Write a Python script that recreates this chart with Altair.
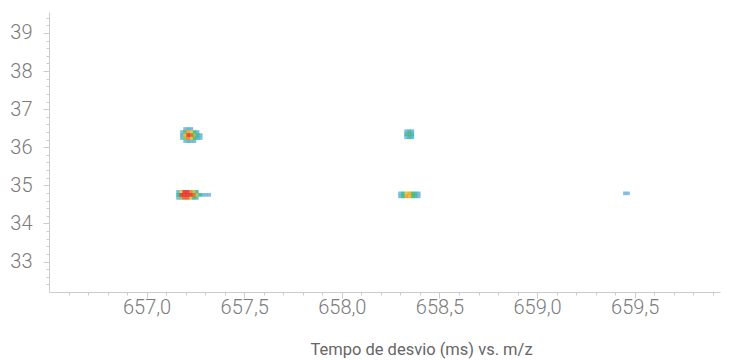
import altair as alt
import pandas as pd

# Ion-mobility map: drift time (ms) vs m/z, intensity per cell (0 = empty)
mz_step = 0.016
dt_step = 0.08

# Each peak: starting m/z column, drift-time rows, intensity grid (rows top->bottom)
peak_657_dt36_mz0 = 657.181
peak_657_dt36_rows = [36.48, 36.40, 36.32, 36.24, 36.16]
peak_657_dt36_grid = [
    [0.00, 0.12, 0.20, 0.15, 0.00, 0.00, 0.00],
    [0.12, 0.45, 0.75, 0.60, 0.35, 0.15, 0.00],
    [0.20, 0.70, 1.00, 0.85, 0.50, 0.35, 0.15],
    [0.15, 0.50, 0.80, 0.65, 0.40, 0.25, 0.12],
    [0.00, 0.12, 0.20, 0.15, 0.12, 0.00, 0.00],
]

peak_657_dt34_mz0 = 657.161
peak_657_dt34_rows = [34.83, 34.75, 34.67]
peak_657_dt34_grid = [
    [0.15, 0.60, 0.90, 0.95, 0.80, 0.55, 0.30, 0.00, 0.00, 0.00, 0.00],
    [0.35, 0.90, 1.00, 1.00, 1.00, 0.85, 0.55, 0.35, 0.15, 0.12, 0.10],
    [0.12, 0.50, 0.85, 0.85, 0.65, 0.40, 0.20, 0.00, 0.00, 0.00, 0.00],
]

peak_658_dt36_mz0 = 658.329
peak_658_dt36_rows = [36.42, 36.34, 36.26]
peak_658_dt36_grid = [
    [0.12, 0.30, 0.15],
    [0.30, 0.42, 0.30],
    [0.12, 0.30, 0.20],
]

peak_658_dt34_mz0 = 658.298
peak_658_dt34_rows = [34.79, 34.71]
peak_658_dt34_grid = [
    [0.12, 0.35, 0.60, 0.70, 0.45, 0.30, 0.12],
    [0.15, 0.40, 0.75, 0.65, 0.45, 0.30, 0.12],
]

peak_659_dt34_mz0 = 659.450
peak_659_dt34_rows = [34.79]
peak_659_dt34_grid = [
    [0.12, 0.10],
]

peaks = [
    (peak_657_dt36_mz0, peak_657_dt36_rows, peak_657_dt36_grid),
    (peak_657_dt34_mz0, peak_657_dt34_rows, peak_657_dt34_grid),
    (peak_658_dt36_mz0, peak_658_dt36_rows, peak_658_dt36_grid),
    (peak_658_dt34_mz0, peak_658_dt34_rows, peak_658_dt34_grid),
    (peak_659_dt34_mz0, peak_659_dt34_rows, peak_659_dt34_grid),
]

records = []
for mz0, rows, grid in peaks:
    for dt, line in zip(rows, grid):
        for i, v in enumerate(line):
            if v > 0:
                records.append({"mz": mz0 + i * mz_step, "drift": dt, "intensity": v})
df = pd.DataFrame(records).sort_values("intensity")

# Axis tick positions (major + minor)
x_ticks = [656.6, 656.7, 656.8, 656.9, 657.0, 657.1, 657.2, 657.3, 657.4, 657.5,
           657.6, 657.7, 657.8, 657.9, 658.0, 658.1, 658.2, 658.3, 658.4, 658.5,
           658.6, 658.7, 658.8, 658.9, 659.0, 659.1, 659.2, 659.3, 659.4, 659.5,
           659.6, 659.7, 659.8, 659.9]
y_ticks = [32.4, 32.6, 32.8, 33.0, 33.2, 33.4, 33.6, 33.8, 34.0, 34.2, 34.4, 34.6,
           34.8, 35.0, 35.2, 35.4, 35.6, 35.8, 36.0, 36.2, 36.4, 36.6, 36.8, 37.0,
           37.2, 37.4, 37.6, 37.8, 38.0, 38.2, 38.4, 38.6, 38.8, 39.0, 39.2, 39.4]

intensity_stops = [0.1, 0.3, 0.45, 0.6, 0.75, 0.9]
intensity_colors = ["#7ab3e0", "#3fb3a8", "#4fb55a", "#d4c83c", "#f39a2c", "#e0302a"]

x_major = "abs(datum.value*2 - round(datum.value*2)) < 0.001"
y_major = "abs(datum.value - round(datum.value)) < 0.001"

chart = alt.Chart(df).mark_square(size=13, opacity=0.88).encode(
    x=alt.X(
        "mz:Q",
        scale=alt.Scale(domain=[656.5, 659.937], nice=False, zero=False),
        axis=alt.Axis(
            values=x_ticks,
            title="Tempo de desvio (ms) vs. m/z",
            labelExpr=f"{x_major} ? replace(format(datum.value, '.1f'), '.', ',') : ''",
            tickSize={"condition": {"test": x_major, "value": 6}, "value": 3},
            labelOverlap=False,
            labelFlush=False,
            labelPadding=-1,
            titleX=372,
            titleY=57,
            titleBaseline="middle",
        ),
    ),
    y=alt.Y(
        "drift:Q",
        scale=alt.Scale(domain=[32.2, 39.55], nice=False, zero=False),
        axis=alt.Axis(
            values=y_ticks,
            title=None,
            labelExpr=f"{y_major} ? format(datum.value, 'd') : ''",
            tickSize={"condition": {"test": y_major, "value": 6}, "value": 3},
            labelOverlap=False,
            labelFlush=False,
            labelPadding=11,
        ),
    ),
    color=alt.Color(
        "intensity:Q",
        scale=alt.Scale(domain=intensity_stops, range=intensity_colors, clamp=True),
        legend=None,
    ),
).properties(
    width=671,
    height=280,
    autosize="none",
    padding={"left": 49, "top": 12, "right": 28, "bottom": 68},
).configure_view(
    stroke=None
).configure_axis(
    grid=False,
    domainColor="#cccccc",
    tickColor="#cccccc",
    labelFont="Roboto",
    labelFontSize=20,
    labelFontWeight=300,
    labelColor="#7a7a7a",
    titleFont="Roboto",
    titleFontSize=16.5,
    titleFontWeight="normal",
    titleColor="#666666",
)

chart.save("out.html", embed_options={"renderer": "svg", "actions": False})
